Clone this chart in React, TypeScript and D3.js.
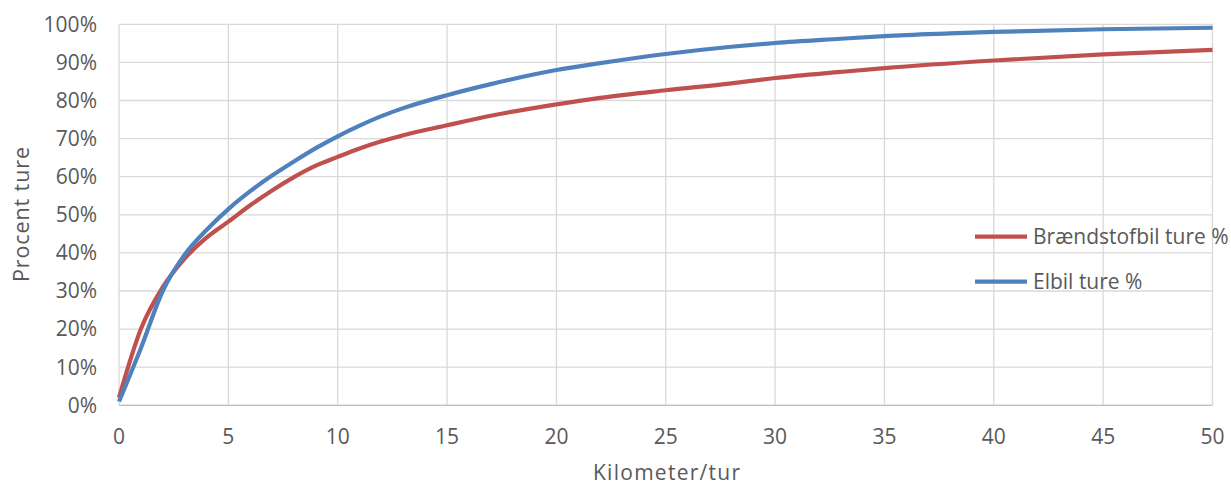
import React from "react";
import * as d3 from "d3";

const kmRed = [0, 1, 2, 3, 4, 5, 6, 7, 8, 9, 10, 11, 12, 13, 15, 17, 20, 22, 25, 28, 30, 33, 35, 40, 45, 50];
const redValues = [2, 20, 31, 38.5, 44, 48.2, 52.5, 56.4, 59.9, 62.9, 65.2, 67.4, 69.3, 70.9, 73.5, 76, 79, 80.7, 82.7, 84.5, 85.9, 87.5, 88.5, 90.5, 92.1, 93.3];
const kmBlue = [0, 1, 2, 3, 4, 5, 6, 7, 8, 9, 10, 11, 12, 13, 15, 17, 20, 22, 25, 28, 30, 33, 35, 38, 40, 45, 50];
const blueValues = [1, 15, 30, 39.5, 46, 51.5, 56.2, 60.3, 64, 67.5, 70.6, 73.4, 75.9, 78, 81.4, 84.3, 88, 89.8, 92.2, 94.1, 95.1, 96.2, 96.9, 97.6, 98, 98.7, 99.1];
const xTicks = [0, 5, 10, 15, 20, 25, 30, 35, 40, 45, 50];
const yTicks = [0, 10, 20, 30, 40, 50, 60, 70, 80, 90, 100];
const seriesNames = ["Brændstofbil ture %", "Elbil ture %"];
const seriesColors = ["#C0504D", "#4F81BD"];

const W = 1231;
const H = 486;
const FONT = "'Open Sans', sans-serif";
const TXT = "#595959";

export default function App() {
  const x = d3.scaleLinear().domain([0, 50]).range([119, 1212.5]);
  const y = d3.scaleLinear().domain([0, 100]).range([405.3, 24.3]);
  const line = d3
    .line<[number, number]>()
    .x((d) => x(d[0]))
    .y((d) => y(d[1]))
    .curve(d3.curveMonotoneX);
  const redPts = kmRed.map((k, i) => [k, redValues[i]] as [number, number]);
  const bluePts = kmBlue.map((k, i) => [k, blueValues[i]] as [number, number]);

  return (
    <svg
      width={W}
      height={H}
      style={{ position: "absolute", left: 0, top: 0, background: "#fff" }}
      fontFamily={FONT}
    >
      {yTicks.map((t) => (
        <line key={"gy" + t} x1={x(0)} x2={x(50)} y1={y(t)} y2={y(t)} stroke="#D9D9D9" strokeWidth={1.3} />
      ))}
      {xTicks.map((t) => (
        <line key={"gx" + t} x1={x(t)} x2={x(t)} y1={y(0)} y2={y(100)} stroke="#D9D9D9" strokeWidth={1.3} />
      ))}
      <line x1={x(0)} x2={x(50)} y1={y(0)} y2={y(0)} stroke="#BFBFBF" strokeWidth={1.3} />
      <path d={line(redPts) || ""} fill="none" stroke={seriesColors[0]} strokeWidth={4.2} strokeLinejoin="round" />
      <path d={line(bluePts) || ""} fill="none" stroke={seriesColors[1]} strokeWidth={4.2} strokeLinejoin="round" />
      {yTicks.map((t) => (
        <text key={"ty" + t} x={97} y={y(t)} dy="0.35em" textAnchor="end" fontSize={21} fill={TXT}>
          {t + "%"}
        </text>
      ))}
      {xTicks.map((t) => (
        <text key={"tx" + t} x={x(t)} y={437} dy="0.35em" textAnchor="middle" fontSize={21} fill={TXT}>
          {t}
        </text>
      ))}
      <text x={666.5} y={480} textAnchor="middle" fontSize={21} fill={TXT} textLength={147} lengthAdjust="spacing">
        Kilometer/tur
      </text>
      <text
        transform={`translate(21,214.5) rotate(-90)`}
        dy="0.35em"
        textAnchor="middle"
        fontSize={21.5}
        fill={TXT}
        textLength={135}
        lengthAdjust="spacing"
      >
        Procent ture
      </text>
      {seriesNames.map((n, i) => (
        <g key={n} transform={`translate(0,${236.7 + i * 45})`}>
          <line x1={975} x2={1027} y1={0} y2={0} stroke={seriesColors[i]} strokeWidth={4.2} />
          <text x={1033} y={0} dy="0.35em" fontSize={21} fill={TXT}>
            {n}
          </text>
        </g>
      ))}
    </svg>
  );
}
